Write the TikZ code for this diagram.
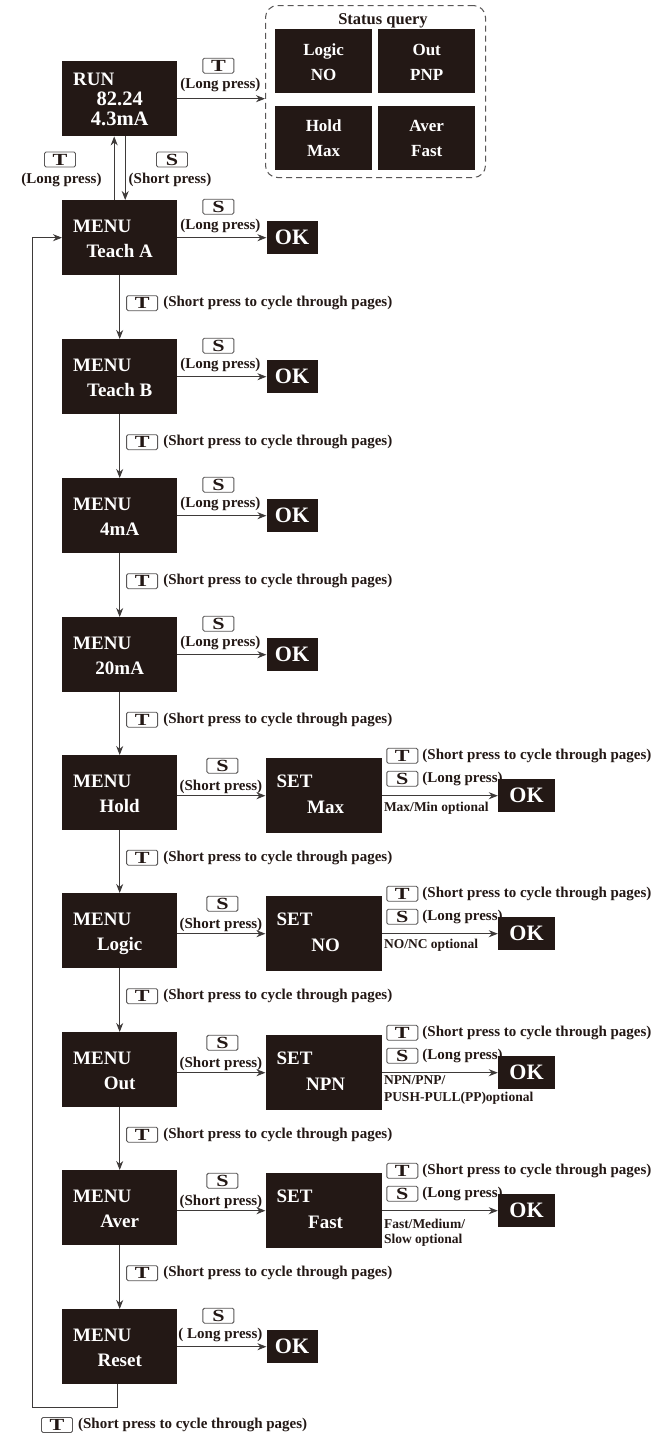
\documentclass[tikz,border=0pt]{standalone}
\usepackage{fontspec}
\setmainfont{Liberation Serif}
\usetikzlibrary{arrows.meta}
\definecolor{boxc}{HTML}{231815}
\definecolor{linec}{HTML}{3E3A39}
\definecolor{keyc}{HTML}{595757}
\newcommand{\kT}{\scalebox{1.3}[1]{T}}
\newcommand{\kS}{\scalebox{1.3}[1]{S}}
% menu box: name, top, second line
\newcommand{\mkmenu}[3]{%
  \node[blk] (#1) at (62,#2) {};
  \node[bt, anchor=base west] (#1-a) at ([shift={(11,32)}]#1.north west) {MENU};
  \node[bt, anchor=base] (#1-b) at ([shift={(0,57)}]#1.north) {#3};
}
% down connector with T label: from, to
\newcommand{\mkdown}[2]{%
  \draw[arr] (#1.south) -- (#2.north);
  \path (#1.south) -- (#2.north) coordinate[pos=0.5] (#1-m);
  \node[keyb, anchor=west] (#1-k) at ([shift={(6.5,-4)}]#1-m) {\kT};
  \node[lbl, anchor=west] (#1-t) at ([xshift=5]#1-k.east) {(Short press to cycle through pages)};
}
% menu -> OK with S long press: menu, label text
\newcommand{\mkok}[2]{%
  \node[okb, anchor=west] (#1-ok) at ([xshift=89]#1.east) {OK};
  \draw[arr] (#1.east) -- (#1-ok.west);
  \node[keyb] (#1-ks) at ([shift={(41,-31)}]#1.east) {\kS};
  \node[lbl, anchor=base] (#1-ls) at ([shift={(43,-8)}]#1.east) {#2};
}
% menu -> SET -> OK: menu, value, line1, offset1, line2, offset2
\newcommand{\mkset}[6]{%
  \node[setb] (#1-set) at ([shift={(88,3)}]#1.north east) {};
  \node[bt, anchor=base west] (#1-sa) at ([shift={(11,29)}]#1-set.north west) {SET};
  \node[bt, anchor=base] (#1-sb) at ([shift={(2,55)}]#1-set.north) {#2};
  \coordinate (#1-p) at (#1.east |- #1-set.west);
  \draw[arr] (#1-p) -- (#1-set.west);
  \node[keyb] (#1-ks) at ([shift={(45,-30)}]#1-p) {\kS};
  \node[lbl, anchor=base] (#1-ls) at ([shift={(43.5,-5)}]#1-p) {(Short press)};
  \node[okb, minimum width=57pt, anchor=west] (#1-ok) at ([xshift=116]#1-set.east) {OK};
  \draw[arr] (#1-set.east) -- (#1-ok.west);
  \node[keyb] (#1-kt2) at ([shift={(20.5,-40)}]#1-set.east) {\kT};
  \node[lbl, anchor=west] (#1-lt2) at ([xshift=4]#1-kt2.east) {(Short press to cycle through pages)};
  \node[keyb] (#1-ks2) at ([shift={(20.5,-17)}]#1-set.east) {\kS};
  \node[lbl, anchor=west] (#1-ls2) at ([xshift=4]#1-ks2.east) {(Long press)};
  \node[sml] (#1-op) at ([shift={(2,#4)}]#1-set.east) {#3};
  \node[sml] (#1-oq) at ([shift={(2,#6)}]#1-set.east) {#5};
}
\begin{document}
\begin{tikzpicture}[x=1pt,y=-1pt,
  blk/.style={fill=boxc, draw=none, minimum width=115pt, minimum height=75pt, inner sep=0pt, anchor=north west},
  setb/.style={fill=boxc, draw=none, minimum width=116pt, minimum height=75pt, inner sep=0pt, anchor=north west},
  okb/.style={fill=boxc, minimum width=51pt, minimum height=33pt, inner sep=0pt, text=white, font=\bfseries\fontsize{22}{22}\selectfont},
  sqb/.style={fill=boxc, minimum width=97pt, minimum height=64pt, inner sep=0pt, anchor=north west},
  bt/.style={text=white, font=\bfseries\fontsize{19}{19}\selectfont, inner sep=0pt},
  st/.style={text=white, font=\bfseries\fontsize{17}{17}\selectfont, inner sep=0pt, anchor=base},
  lbl/.style={text=boxc, font=\bfseries\fontsize{15}{15}\selectfont, inner sep=0pt},
  sml/.style={text=boxc, font=\bfseries\fontsize{13.5}{16}\selectfont, inner sep=0pt, anchor=base west},
  keyb/.style={draw=keyc, line width=0.9pt, rounded corners=1.5pt, minimum width=31pt, minimum height=15pt, inner sep=0pt, text=boxc, font=\bfseries\fontsize{17}{17}\selectfont},
  arr/.style={draw=linec, line width=0.9pt, -{Stealth[length=9pt,width=7pt]}},
]
\useasboundingbox[fill=white] (0,0) rectangle (655,1433);

% RUN box
\node[blk] (run) at (62,61) {};
\node[bt, anchor=base west] (run-a) at ([shift={(11,24)}]run.north west) {RUN};
\node[bt, font=\bfseries\fontsize{20.5}{20.5}\selectfont, anchor=base] (run-b) at ([shift={(0,44)}]run.north) {82.24};
\node[bt, font=\bfseries\fontsize{20.5}{20.5}\selectfont, anchor=base] (run-c) at ([shift={(0,64)}]run.north) {4.3mA};

% Status query
\node[draw=keyc, dash pattern=on 6pt off 4pt, line width=1pt, rounded corners=12pt, minimum width=220pt, minimum height=172pt, inner sep=0pt, anchor=north west] (sq) at (265,5) {};
\node[lbl, font=\bfseries\fontsize{16.5}{16.5}\selectfont, anchor=base] (sq-t) at (383,24) {Status query};
\node[sqb] (q1) at (275,29) {};
\node[st] (q1-a) at ([shift={(0,26)}]q1.north) {Logic};
\node[st] (q1-b) at ([shift={(0,51)}]q1.north) {NO};
\node[sqb] (q2) at (378,29) {};
\node[st] (q2-a) at ([shift={(0,26)}]q2.north) {Out};
\node[st] (q2-b) at ([shift={(0,51)}]q2.north) {PNP};
\node[sqb] (q3) at (275,106) {};
\node[st] (q3-a) at ([shift={(0,25)}]q3.north) {Hold};
\node[st] (q3-b) at ([shift={(0,50)}]q3.north) {Max};
\node[sqb] (q4) at (378,106) {};
\node[st] (q4-a) at ([shift={(0,25)}]q4.north) {Aver};
\node[st] (q4-b) at ([shift={(0,50)}]q4.north) {Fast};

\draw[arr] (run.east) -- (run.east -| sq.west);
\node[keyb] (run-kt) at ([shift={(41,-33)}]run.east) {\kT};
\node[lbl, anchor=base] (run-lt) at ([shift={(43,-10)}]run.east) {(Long press)};

% menus
\mkmenu{ta}{200}{Teach A}
\mkmenu{tb}{339}{Teach B}
\mkmenu{m4}{478}{4mA}
\mkmenu{m20}{617}{20mA}
\mkmenu{hd}{755}{Hold}
\mkmenu{lg}{893}{Logic}
\mkmenu{ot}{1032}{Out}
\mkmenu{av}{1170}{Aver}
\mkmenu{rs}{1309}{Reset}

% RUN <-> Teach A
\draw[arr] ([xshift=-5.5]ta.north) -- ([xshift=-5.5]run.south);
\draw[arr] ([xshift=5.5]run.south) -- ([xshift=5.5]ta.north);
\node[keyb] (up-k) at (60,159.5) {\kT};
\node[lbl, anchor=base] (up-t) at (61.5,183) {(Long press)};
\node[keyb] (dn-k) at (172,159.5) {\kS};
\node[lbl, anchor=base] (dn-t) at (170,183) {(Short press)};

% chain
\mkdown{ta}{tb}
\mkdown{tb}{m4}
\mkdown{m4}{m20}
\mkdown{m20}{hd}
\mkdown{hd}{lg}
\mkdown{lg}{ot}
\mkdown{ot}{av}
\mkdown{av}{rs}

% OK branches
\mkok{ta}{(Long press)}
\mkok{tb}{(Long press)}
\mkok{m4}{(Long press)}
\mkok{m20}{(Long press)}
\mkok{rs}{( Long press)}

% SET branches
\mkset{hd}{Max}{Max/Min optional}{16}{}{32}
\mkset{lg}{NO}{NO/NC optional}{15}{}{32}
\mkset{ot}{NPN}{NPN/PNP/}{12}{PUSH-PULL(PP)optional}{29}
\mkset{av}{Fast}{Fast/Medium/}{18}{Slow optional}{33}

% loop back
\coordinate (lp1) at (117,1407);
\coordinate (lp2) at (32,1407);
\draw[arr] (rs.south -| lp1) -- (lp1) -- (lp2) -- (lp2 |- ta.west) -- (ta.west);
\node[keyb] (bt-k) at (57,1425) {\kT};
\node[lbl, anchor=west] (bt-t) at ([xshift=5]bt-k.east) {(Short press to cycle through pages)};
\end{tikzpicture}
\end{document}
